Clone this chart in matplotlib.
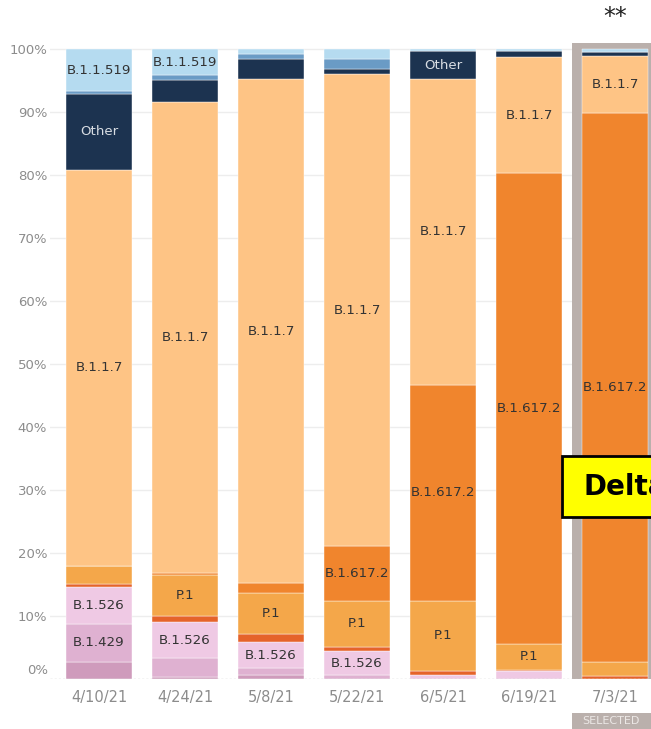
import matplotlib

matplotlib.use("Agg")
import matplotlib.pyplot as plt
from matplotlib.patches import Rectangle
import numpy as np

# Collection dates (x categories)
dates = ["4/10/21", "4/24/21", "5/8/21", "5/22/21", "6/5/21", "6/19/21", "7/3/21"]

# Variant share per date (%), stacked bottom -> top
b1_427 = [2.75, 0.3, 0.6, 0.0, 0.0, 0.0, 0.0]
b1_429 = [6.05, 3.0, 1.1, 0.6, 0.0, 0.0, 0.0]
b1_526 = [5.85, 5.7, 4.2, 3.8, 0.7, 1.2, 0.0]
b1_351 = [0.45, 1.0, 1.2, 0.7, 0.6, 0.2, 0.4]
p1 = [2.8, 6.5, 6.6, 7.3, 11.1, 4.2, 2.35]
b1_617_2 = [0.0, 0.3, 1.5, 8.7, 34.3, 74.8, 87.1]
b1_1_7 = [63.0, 74.9, 80.1, 74.9, 48.6, 18.3, 9.05]
other = [12.0, 3.4, 3.1, 0.8, 4.4, 1.0, 0.7]
b1_525 = [0.4, 0.8, 0.8, 1.7, 0.0, 0.0, 0.0]
b1_1_519 = [6.7, 4.1, 0.8, 1.5, 0.3, 0.3, 0.4]

variant_names = ["B.1.427", "B.1.429", "B.1.526", "B.1.351", "P.1",
                 "B.1.617.2", "B.1.1.7", "Other", "B.1.525", "B.1.1.519"]
variant_shares = [b1_427, b1_429, b1_526, b1_351, p1,
                  b1_617_2, b1_1_7, other, b1_525, b1_1_519]
variant_colors = ["#cf9bbc", "#dfb1d1", "#efc9e4", "#e5632a", "#f4a74a",
                  "#f0852d", "#fec485", "#1c3350", "#6a9bc5", "#b5dbf0"]

y_ticks = [0, 10, 20, 30, 40, 50, 60, 70, 80, 90, 100]
y_tick_labels = [f"{t}%" for t in y_ticks]

selected_date = "7/3/21"
label_min_share = 3.5

W, H = 651, 729
fig = plt.figure(figsize=(W / 100, H / 100), dpi=100)
ax = fig.add_axes([50 / W, 1 - 679 / H, 616.6 / W, 636 / H])

x = np.arange(len(dates))
ax.set_xlim(-0.57, 6.6)
ax.set_ylim(0, 101)

# grid
for t in y_ticks[1:]:
    ax.axhline(t, color="#ededed", lw=1.0, zorder=0)
ax.axhline(0, color="#c8c8c8", lw=1.0, ls=(0, (1.5, 1.5)), zorder=4)

# highlight for selected column
sel = dates.index(selected_date)
ax.axvspan(sel - 0.5, sel + 0.7, color="#bab0ac", zorder=1, lw=0)

bottom = np.zeros(len(dates))
for name, vals, color in zip(variant_names, variant_shares, variant_colors):
    vals = np.asarray(vals)
    ax.bar(x, vals, width=0.767, bottom=bottom, color=color,
           edgecolor="white", linewidth=0.3, zorder=2)
    for xi, v, b in zip(x, vals, bottom):
        if v >= label_min_share:
            tc = "#d8dde3" if name == "Other" else "#333333"
            ax.text(xi, b + v / 2, name, ha="center", va="center",
                    fontsize=9.6, color=tc, zorder=5)
    bottom += vals

ax.set_xticks(x)
ax.set_xticklabels(dates, fontsize=10.5, color="#8c8c8c")
ax.tick_params(axis="x", length=0, pad=8)
ax.set_yticks(y_ticks[1:])
ax.set_yticklabels(y_tick_labels[1:], fontsize=9.5, color="#8c8c8c")
ax.tick_params(axis="y", length=0, pad=2)
ax.annotate(y_tick_labels[0], xy=(0, 0), xycoords=("axes fraction", "data"),
            xytext=(-2, 9), textcoords="offset pixels", ha="right",
            va="center", fontsize=9.5, color="#8c8c8c")
for s in ax.spines.values():
    s.set_visible(False)

# "SELECTED" tag under the highlighted column
fig.patches.append(Rectangle((572 / W, 0), 0.2, 16 / H, transform=fig.transFigure,
                             facecolor="#bab0ac", edgecolor="none"))
fig.text(611 / W, 8 / H, "SELECTED", ha="center", va="center",
         fontsize=8, color="#ece8e6")

# asterisks above selected column
fig.text(615 / W, 1 - 17 / H, "**", ha="center", va="center",
         fontsize=17, color="#222222")

# Delta callout
fig.patches.append(Rectangle((562 / W, 1 - 517 / H), 0.2, 61 / H,
                             transform=fig.transFigure, facecolor="#ffff00",
                             edgecolor="black", linewidth=2, zorder=10))
fig.text(583 / W, 1 - 487 / H, "Delta", ha="left", va="center",
         fontsize=20, fontweight="bold", color="black", zorder=11)

fig.savefig("out.png", dpi=100)
plt.close(fig)
